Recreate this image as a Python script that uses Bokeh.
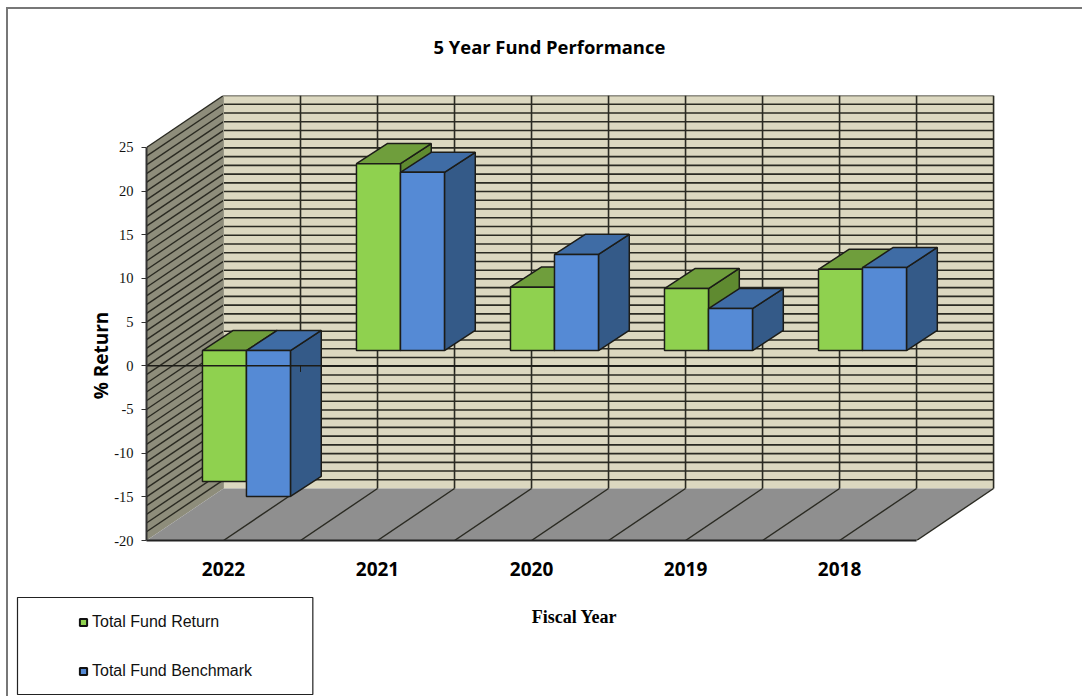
from math import pi
from bokeh.embed import file_html
from bokeh.resources import INLINE
from bokeh.plotting import figure
from bokeh.models import (Range1d, FixedTicker, LinearAxis, Legend, LegendItem, Label)

# ---- data ----
years = ["2022", "2021", "2020", "2019", "2018"]
fund_return = [-15.0, 21.4, 7.25, 7.1, 9.3]
fund_benchmark = [-16.7, 20.4, 11.0, 4.8, 9.5]
y_major = [-20, -15, -10, -5, 0, 5, 10, 15, 20, 25]
y_all = list(range(-20, 26))
wall_columns = list(range(0, 11))

# ---- 3-D projection, in axis units ----
WALL_DX, WALL_DY = 0.5, 5.95      # depth of the chart box
SHIFT_DX, SHIFT_DY = 0.149, 1.75  # plane of the bars
BAR_DX, BAR_DY = 0.2, 2.3         # depth of a bar
BAR_W = 0.2857
X_MAX, Y_MIN, Y_MAX = 5.558, -20.0, 25 + WALL_DY

NAVY = "#1c1c18"
GRID = "#2a2a22"

p = figure(width=1076, height=689, output_backend="svg", toolbar_location=None,
           x_range=Range1d(0, X_MAX), y_range=Range1d(Y_MIN, Y_MAX),
           frame_width=856, frame_height=445,
           min_border_left=138, min_border_right=80, min_border_top=86, min_border_bottom=156,
           x_axis_location=None, y_axis_location=None, margin=(7, 0, 0, 6), title=None,
           styles={"border-left": "2px solid #777777", "border-top": "2px solid #777777"})
p.outline_line_color = None
p.grid.visible = False
p.background_fill_color = None
p.border_fill_color = "white"

# ---- walls and floor ----
p.patch([WALL_DX, 5 + WALL_DX, 5 + WALL_DX, WALL_DX],
        [Y_MIN + WALL_DY, Y_MIN + WALL_DY, 25 + WALL_DY, 25 + WALL_DY],
        fill_color="#dcd8c0", line_color=None)
p.patch([0, WALL_DX, WALL_DX, 0],
        [25, 25 + WALL_DY, Y_MIN + WALL_DY, Y_MIN],
        fill_color="#8e8d7b", line_color=None)
p.patch([0, 5, 5 + WALL_DX, WALL_DX],
        [Y_MIN, Y_MIN, Y_MIN + WALL_DY, Y_MIN + WALL_DY],
        fill_color="#8f8f8f", line_color=None)

rows = y_all[1:]
p.segment(x0=[WALL_DX] * len(rows), x1=[5 + WALL_DX] * len(rows),
          y0=[v + WALL_DY for v in rows], y1=[v + WALL_DY for v in rows],
          line_color=GRID, line_width=1.6)
p.segment(x0=[0] * len(rows), x1=[WALL_DX] * len(rows),
          y0=rows, y1=[v + WALL_DY for v in rows],
          line_color=GRID, line_width=1.4)
cols = [k * WALL_DX for k in wall_columns]
p.segment(x0=[c + WALL_DX for c in cols[1:]], x1=[c + WALL_DX for c in cols[1:]],
          y0=[Y_MIN + WALL_DY] * 10, y1=[25 + WALL_DY] * 10,
          line_color=GRID, line_width=1.6)
p.segment(x0=cols[1:], x1=[c + WALL_DX for c in cols[1:]],
          y0=[Y_MIN] * 10, y1=[Y_MIN + WALL_DY] * 10,
          line_color=GRID, line_width=1.4)
# light edge of the back wall
p.line([WALL_DX, WALL_DX], [Y_MIN + WALL_DY, 25 + WALL_DY], line_color="#9a9988", line_width=1)


# ---- bars ----
def draw_series(values, offset, front, top, side):
    lefts, rights, tops, bottoms = [], [], [], []
    for i, v in enumerate(values):
        lefts.append(i + 0.5 + SHIFT_DX + offset * BAR_W - BAR_W)
        rights.append(i + 0.5 + SHIFT_DX + offset * BAR_W)
        tops.append(max(v, 0) + SHIFT_DY)
        bottoms.append(min(v, 0) + SHIFT_DY)
    side_x = [[r, r + BAR_DX, r + BAR_DX, r] for r in rights]
    side_y = [[t, t + BAR_DY, b + BAR_DY, b] for t, b in zip(tops, bottoms)]
    top_x = [[l, r, r + BAR_DX, l + BAR_DX] for l, r in zip(lefts, rights)]
    top_y = [[t, t, t + BAR_DY, t + BAR_DY] for t in tops]
    p.patches(side_x, side_y, fill_color=side, line_color=NAVY, line_width=1.5)
    p.patches(top_x, top_y, fill_color=top, line_color=NAVY, line_width=1.5)
    # the legend key: a small square hidden behind each front face
    key = p.scatter([(a + b) / 2 for a, b in zip(lefts, rights)],
                    [(a + b) / 2 for a, b in zip(tops, bottoms)],
                    marker="square", size=2, fill_color=front, line_color="#111111", line_width=2)
    p.quad(left=lefts, right=rights, top=tops, bottom=bottoms,
           fill_color=front, line_color=NAVY, line_width=1.5)
    return key


green = draw_series(fund_return, 0, "#8fd14f", "#6f9e3c", "#5f8a30")
blue = draw_series(fund_benchmark, 1, "#558ad5", "#3f6ca5", "#345a88")

# ---- zero line of the category axis, in front of the bars ----
p.line([0, 5], [0, 0], line_color=NAVY, line_width=1.4)
p.segment(x0=[1, 2, 3, 4], x1=[1, 2, 3, 4], y0=[0] * 4, y1=[-0.7] * 4,
          line_color=NAVY, line_width=1)

# ---- axes ----
yax = LinearAxis(bounds=(-20, 25), ticker=FixedTicker(ticks=y_major))
yax.major_label_overrides = {v: str(v) for v in y_major}
yax.axis_line_color = "#333333"
yax.axis_line_width = 2
yax.major_tick_line_color = "#333333"
yax.major_tick_out = 5
yax.major_tick_in = 0
yax.minor_tick_line_color = None
yax.major_label_standoff = 8
yax.major_label_text_font = "Liberation Serif"
yax.major_label_text_font_size = "14.5px"
yax.major_label_text_color = "#111111"
p.add_layout(yax, "left")

p.add_layout(Label(x=90, y=344, x_units="canvas", y_units="canvas", text="% Return",
                   angle=pi / 2, text_align="center", text_baseline="middle",
                   text_font="Open Sans", text_font_style="bold", text_font_size="19px",
                   text_color="black"), "left")

xax = LinearAxis(bounds=(0, 5), ticker=FixedTicker(ticks=[0.5, 1.5, 2.5, 3.5, 4.5]))
xax.major_label_overrides = {i + 0.5: y for i, y in enumerate(years)}
xax.axis_line_color = "#222222"
xax.axis_line_width = 2
xax.major_tick_line_color = None
xax.minor_tick_line_color = None
xax.major_label_standoff = 15
xax.major_label_text_font = "Open Sans"
xax.major_label_text_font_style = "bold"
xax.major_label_text_font_size = "19px"
xax.major_label_text_color = "black"
xax.axis_label = "Fiscal Year"
xax.axis_label_text_font = "Liberation Serif"
xax.axis_label_text_font_style = "bold"
xax.axis_label_text_font_size = "18px"
xax.axis_label_text_color = "black"
xax.axis_label_standoff = 28
p.add_layout(xax, "below")

# ---- title ----
p.add_layout(Label(x=423, y=35, x_units="canvas", y_units="canvas",
                   text="5 Year Fund Performance", text_align="left", text_baseline="middle",
                   text_font="Open Sans", text_font_style="bold", text_font_size="18.4px",
                   text_color="black"), "above")

# ---- legend box: an otherwise blank label whose padding gives the frame ----
p.add_layout(Label(x=7, y=683, x_units="canvas", y_units="canvas", text=" ",
                   padding=(146, 146, 41, 42), text_font_size="12px",
                   border_line_color="#222222", border_line_width=1.2), "below")

# ---- legend, in a side panel so that it is not clipped to the frame ----
legend = Legend(items=[LegendItem(label="Total Fund Return", renderers=[green]),
                       LegendItem(label="Total Fund Benchmark", renderers=[blue])],
                location=(-928, -140), padding=0, margin=0, spacing=30,
                glyph_width=18, glyph_height=18, label_height=19,
                label_standoff=0,
                background_fill_alpha=0, border_line_color=None,
                label_text_font="Liberation Sans", label_text_font_size="16px",
                label_text_color="#111111")
p.add_layout(legend, "right")

open("out.html", "w").write(file_html(p, INLINE))
